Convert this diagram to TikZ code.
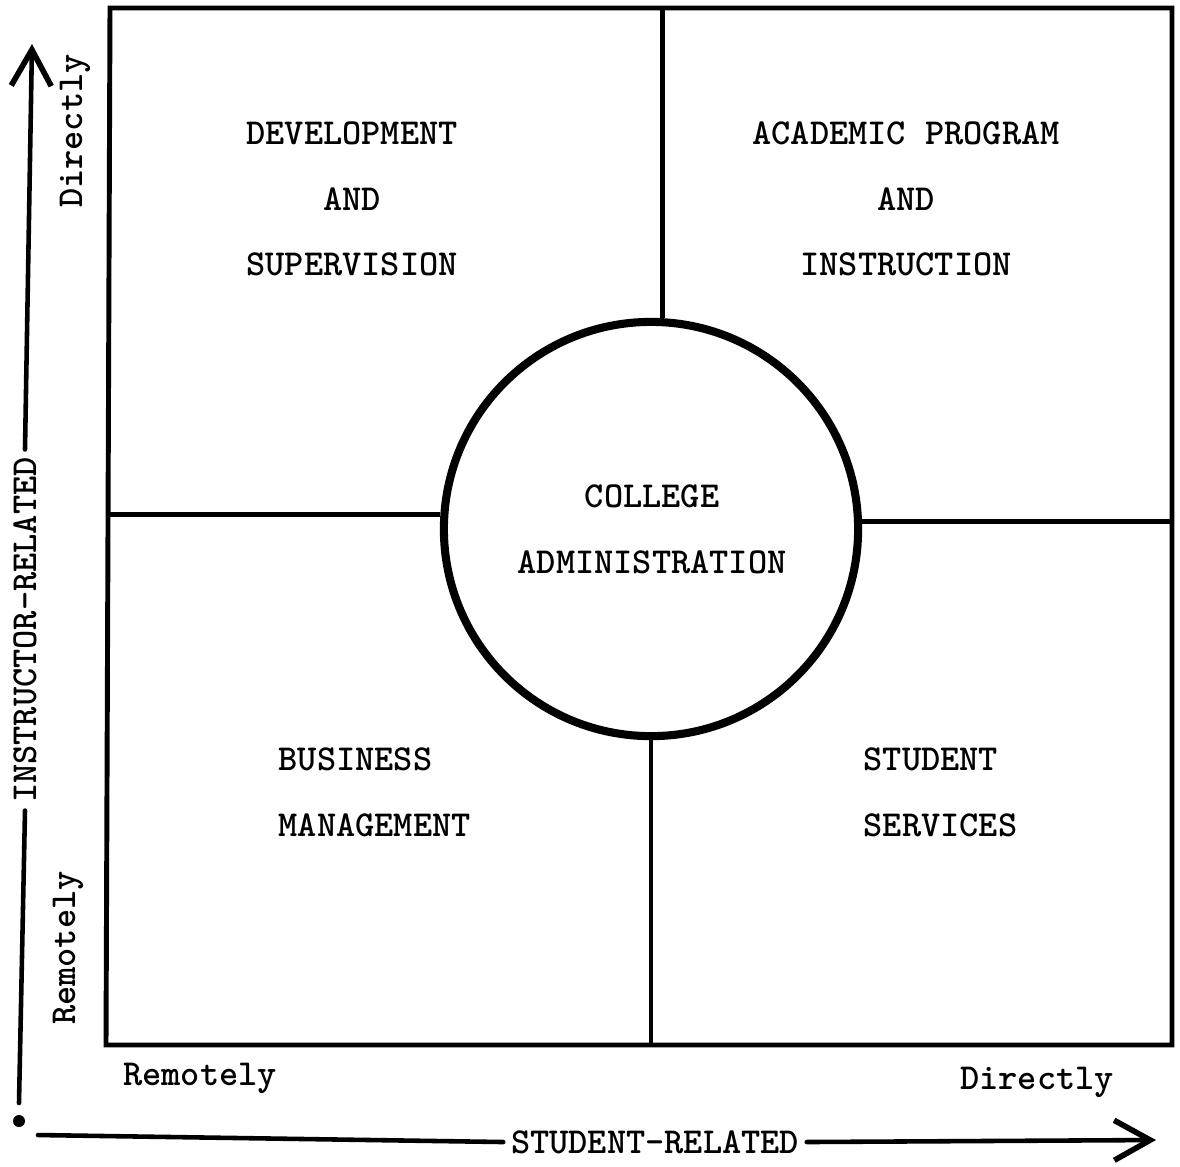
\documentclass[tikz,border=0pt]{standalone}
\usepackage{fontspec}
\usetikzlibrary{arrows.meta}
\begin{document}
\begin{tikzpicture}[x=0.01cm,y=-0.01cm,
  lbl/.style={font=\ttfamily\bfseries\fontsize{10.4}{18.7}\selectfont, inner sep=0pt},
  boxline/.style={line width=1.4pt},
  axis/.style={line width=1.3pt, line cap=round},
  tip/.style={-{Straight Barb[length=0.36cm,width=0.4cm,line width=1.6pt]}}]
\useasboundingbox (0,0) rectangle (1180,1166);
% outer box
\coordinate (tl) at (110,8);
\coordinate (tr) at (1172,8);
\coordinate (br) at (1172,1045);
\coordinate (bl) at (106,1045);
\draw[boxline] (tl) -- (tr) -- (br) -- (bl) -- cycle;
% centre circle
\node[circle, draw, line width=2.3pt, minimum size=4.14cm, inner sep=0pt] (circ) at (651,529) {};
\node[lbl, align=center] (coll) at (652,529) {COLLEGE\\ADMINISTRATION};
% dividers
\draw[boxline] (circ.87) -- (circ.87 |- tl);
\draw[boxline] (circ.south) -- (circ.south |- bl);
\draw[boxline] (circ.176.7) -- (circ.176.7 -| tl);
\draw[boxline] (circ.2.4) -- (circ.2.4 -| tr);
% quadrant labels
\node[lbl, align=center] (dev) at (352,199) {DEVELOPMENT\\AND\\SUPERVISION};
\node[lbl, align=center] (acad) at (906,199) {ACADEMIC PROGRAM\\AND\\INSTRUCTION};
\node[lbl, align=left, anchor=west] (bus) at (278,792) {BUSINESS\\MANAGEMENT};
\node[lbl, align=left, anchor=west] (stu) at (863,792) {STUDENT\\SERVICES};
% axis labels
\node[lbl, rotate=90] (vdir) at (75,131) {Directly};
\node[lbl, rotate=90] (vrem) at (68,948) {Remotely};
\node[lbl] (hrem) at (200,1078) {Remotely};
\node[lbl] (hdir) at (1037,1082) {Directly};
% vertical axis
\node[circle, fill, inner sep=0pt, minimum size=0.12cm] (dot) at (19,1121) {};
\coordinate (vbot) at (19,1103);
\coordinate (vtop) at (32,44);
\node[lbl, rotate=90, inner xsep=2pt] (instr) at (25,630) {INSTRUCTOR-RELATED};
\draw[axis] (vbot) -- (instr.west);
\draw[axis, tip] (instr.east) -- (vtop);
% horizontal axis
\coordinate (hleft) at (38,1135);
\coordinate (hright) at (1156,1140);
\node[lbl, inner xsep=2pt] (sturel) at (655,1142) {STUDENT-RELATED};
\draw[axis] (hleft) -- (sturel.west);
\draw[axis, tip] (sturel.east) -- (hright);
\end{tikzpicture}
\end{document}
